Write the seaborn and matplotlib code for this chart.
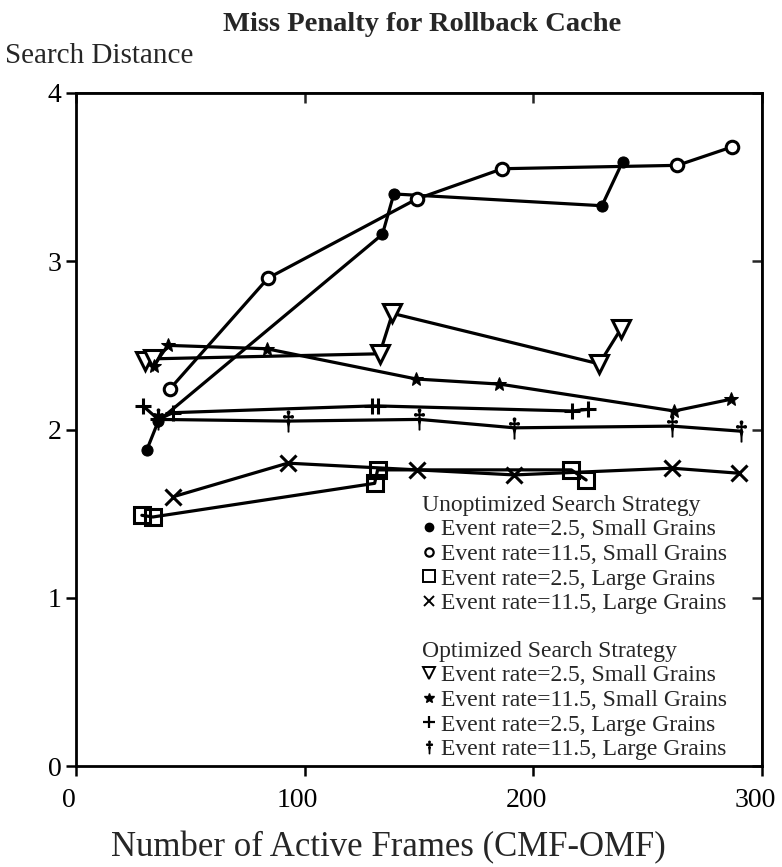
# Miss penalty for rollback cache - recreated line chart
import pandas as pd
import matplotlib
matplotlib.use("Agg")
import matplotlib.pyplot as plt
import matplotlib.transforms as mtransforms
from matplotlib.lines import Line2D
import seaborn as sns

# ============ DATA ============
# Unoptimized search strategy
unopt_small_25_x = [31, 36, 134, 139, 230, 239]
unopt_small_25_y = [1.88, 2.05, 3.16, 3.40, 3.33, 3.59]

unopt_small_115_x = [41, 84, 149, 186.5, 263, 287]
unopt_small_115_y = [2.24, 2.90, 3.37, 3.55, 3.57, 3.68]

unopt_large_25_x = [28.8, 33.6, 130.6, 131.9, 216.6, 223.1]
unopt_large_25_y = [1.49, 1.48, 1.68, 1.76, 1.76, 1.70]

unopt_large_115_x = [42.4, 92.6, 149.3, 191.7, 260.7, 290]
unopt_large_115_y = [1.60, 1.80, 1.76, 1.73, 1.77, 1.74]

# Optimized search strategy
opt_small_25_x = [30, 33.6, 132.8, 138.4, 228.8, 238.4]
opt_small_25_y = [2.41, 2.42, 2.45, 2.69, 2.39, 2.60]

opt_small_115_x = [34, 40.2, 83.4, 148.9, 185.2, 261.6, 286.5]
opt_small_115_y = [2.38, 2.50, 2.48, 2.30, 2.27, 2.11, 2.18]

opt_large_25_x = [29.3, 36, 42.4, 129.3, 131.9, 217, 224]
opt_large_25_y = [2.14, 2.06, 2.10, 2.14, 2.14, 2.11, 2.12]

opt_large_115_x = [36, 92.6, 150.2, 191.7, 260.7, 290.8]
opt_large_115_y = [2.06, 2.05, 2.06, 2.01, 2.02, 1.99]

x_ticks = [0, 100, 200, 300]
y_ticks = [0, 1, 2, 3, 4]

unopt_labels = ["Event rate=2.5, Small Grains", "Event rate=11.5, Small Grains",
                "Event rate=2.5, Large Grains", "Event rate=11.5, Large Grains"]
opt_labels = unopt_labels
# =====================================================

sns.set_theme(style="ticks")
plt.rcParams["font.family"] = ["Liberation Serif", "DejaVu Serif"]
plt.rcParams["mathtext.fontset"] = "stix"

series = [
    (unopt_small_25_x, unopt_small_25_y, dict(marker="o", ms=8, mfc="black", mec="black")),
    (unopt_small_115_x, unopt_small_115_y, dict(marker="o", ms=9, mfc="white", mec="black", mew=2.2)),
    (unopt_large_25_x, unopt_large_25_y, dict(marker="s", ms=12, mfc="none", mec="black", mew=2.2)),
    (unopt_large_115_x, unopt_large_115_y, dict(marker="x", ms=11, mec="black", mew=2.2)),
    (opt_small_25_x, opt_small_25_y, dict(marker="v", ms=13, mfc="white", mec="black", mew=2.2)),
    (opt_small_115_x, opt_small_115_y, dict(marker="*", ms=10, mfc="black", mec="black")),
    (opt_large_25_x, opt_large_25_y, dict(marker="+", ms=12, mec="black", mew=2.2)),
    (opt_large_115_x, opt_large_115_y, dict(marker="$\\dagger$", ms=15, mfc="black", mec="black", mew=1.0)),
]

fig = plt.figure(figsize=(7.82, 8.67), dpi=100)
ax = fig.add_axes([76 / 782, 101 / 867, 686 / 782, 673 / 867])

for xs, ys, style in series:
    df = pd.DataFrame({"x": xs, "y": ys})
    sns.lineplot(data=df, x="x", y="y", ax=ax, sort=False, estimator=None,
                 color="black", lw=2.3, legend=False, **style)

ax.set_xlim(0, 300)
ax.set_ylim(0, 4)
ax.set_xticks(x_ticks)
ax.set_yticks(y_ticks)
ax.set_xlabel("Number of Active Frames (CMF-OMF)", fontsize=25)
ax.xaxis.set_label_coords(0.455, -0.097)
ax.set_ylabel("")
ax.tick_params(direction="out", length=7, width=1.8, labelsize=20, colors="black")
ax.tick_params(axis="x", pad=9)
# x tick labels sit a little left of their ticks in the original
shift = mtransforms.ScaledTranslation(-7 / 100, 0, fig.dpi_scale_trans)
for lab in ax.get_xticklabels():
    lab.set_transform(lab.get_transform() + shift)
for sp in ax.spines.values():
    sp.set_visible(True)
    sp.set_linewidth(2)
    sp.set_color("black")

# inward ticks on top and right
top = ax.secondary_xaxis("top")
top.set_xticks(x_ticks)
top.tick_params(direction="in", length=7, width=1.8, labeltop=False)
right = ax.secondary_yaxis("right")
right.set_yticks(y_ticks)
right.tick_params(direction="in", length=7, width=1.8, labelright=False)

fig.text(0.54, 0.972, "Miss Penalty for Rollback Cache", ha="center", va="center",
         fontsize=20.5, fontweight="bold")
fig.text(0.006, 0.935, "Search Distance", ha="left", va="center", fontsize=21)

# legends
def handles(specs):
    return [Line2D([], [], ls="none", color="black", **s) for s in specs]

unopt_specs = [dict(marker="o", ms=6, mfc="black"),
               dict(marker="o", ms=6, mfc="white", mew=1.6),
               dict(marker="s", ms=9, mfc="white", mew=1.4),
               dict(marker="x", ms=7, mew=1.4)]
opt_specs = [dict(marker="v", ms=9, mfc="white", mew=1.4),
             dict(marker="*", ms=7),
             dict(marker="+", ms=9, mew=1.6),
             dict(marker="$\\dagger$", ms=9)]

leg_kw = dict(frameon=False, fontsize=17, title_fontsize=17, handlelength=0.6,
              handletextpad=0.2, labelspacing=0.13, alignment="left",
              borderpad=0, loc="upper left")
leg1 = fig.legend(handles(unopt_specs), unopt_labels, title="Unoptimized Search Strategy",
                  bbox_to_anchor=(410 / 782, 1 - 483 / 867), **leg_kw)
leg2 = fig.legend(handles(opt_specs), opt_labels, title="Optimized Search Strategy",
                  bbox_to_anchor=(410 / 782, 1 - 629 / 867), **leg_kw)

fig.savefig("out.png", dpi=100, facecolor="white")
